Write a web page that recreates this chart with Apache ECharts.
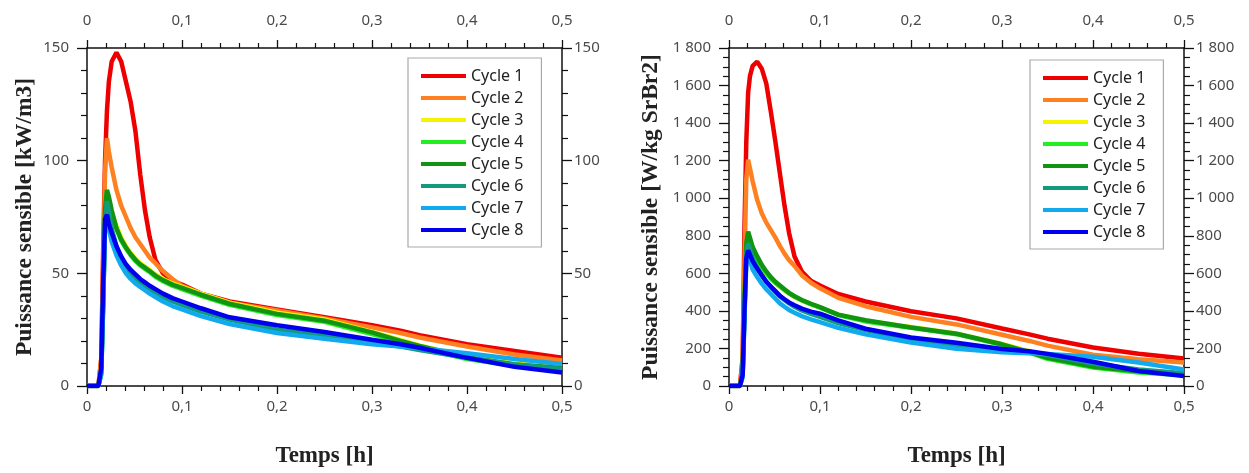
<!DOCTYPE html>
<html><head><meta charset="utf-8">
<script src="https://cdn.jsdelivr.net/npm/echarts@6/dist/echarts.min.js"></script>
<style>html,body{margin:0;padding:0;background:#fff;overflow:hidden}#c{width:1249px;height:473px}</style>
</head><body><div id="c"></div>
<script>
const cycleNames = ['Cycle 1','Cycle 2','Cycle 3','Cycle 4','Cycle 5','Cycle 6','Cycle 7','Cycle 8'];
const colors = ['#ee0000','#ff8020','#f4f400','#22ee22','#119411','#119a7c','#11aaee','#0000ee'];
const time = [0,0.012,0.015,0.017,0.019,0.021,0.023,0.026,0.031,0.036,0.041,0.046,0.051,0.056,0.061,0.066,0.072,0.08,0.09,0.1,0.12,0.15,0.2,0.25,0.3,0.33,0.35,0.4,0.45,0.5];

// Left chart: kW/m3
const L1 = [0,0,12,60,100,122,135,144,148,144,135,126,113,94,78,66,56,50,46.5,45,41,37.5,34,30.5,27,24.5,22.5,18.5,15.5,12.5];
const L2 = [0,0,12,50,95,110,104,97,87,80,75,70,66,63,60,57,54.5,51,47.5,44.5,41,37,33.5,30,26,23.5,21.5,17.5,14,11.3];
const L3 = [0,0,8,40,72,82,80,77,71,66,62,59,56.5,54.5,53,51.5,49.5,47.5,45.5,44,41,37,32.5,29.5,24,20.5,18,13,10,8.5];
const L4 = [0,0,6,35,75,86,82,76,70,64.5,61,58,55.5,53.5,52,50.5,48.5,46.5,44.5,43,40,36,31.5,28.5,23,19.5,17,12,9,7];
const L5 = [0,0,7,38,78,87,84,78,70,65,61.5,58.5,56,54,52.5,51,49,47,45,43.5,40.5,36.5,32,29,23.8,20,17.8,12.8,9.5,8];
const L6 = [0,0,5,35,72,82,78,70,62,57,53,50,48,46,44.5,43,41.5,39.5,37.5,36,33,29.5,25,22.5,19.5,17.5,16,12.5,9.5,7.5];
const L7 = [0,0,6,38,70,74,70,64,58,53.5,50,47.5,45.5,44,42.5,41,39.5,37.5,35.5,34,31,27.5,23.5,21,18.5,17.5,16.8,14.5,12,9.8];
const L8 = [0,0,8,45,74,76,72,68,62,57.5,54,51.5,49.5,47.5,46,44.5,43,41,39,37.5,34.5,30.5,27,24,20.5,18.5,17,12.5,8.5,6];

// Right chart: W/kg SrBr2
const R1 = [0,0,150,840,1300,1560,1650,1705,1727,1690,1610,1460,1300,1130,960,815,690,610,560,535,490,450,398,360,306,275,252,205,172,146];
const R2 = [0,0,120,650,1100,1205,1160,1090,990,920,870,830,790,745,705,670,640,590,550,520,470,425,368,328,273,240,215,166,142,125];
const R3 = [0,0,70,420,730,785,760,720,670,630,598,570,548,528,510,492,474,456,436,418,380,348,314,280,224,185,150,105,80,64];
const R4 = [0,0,60,400,740,800,770,725,675,635,600,572,550,530,512,494,476,456,436,417,378,344,310,276,220,178,145,98,72,57];
const R5 = [0,0,80,450,760,822,790,740,690,645,610,580,555,535,515,496,478,458,438,420,380,350,312,278,222,180,150,103,78,61];
const R6 = [0,0,50,380,700,760,730,680,630,590,555,525,500,478,458,440,422,402,384,368,335,298,245,212,190,178,165,120,88,68];
const R7 = [0,0,50,360,660,690,670,620,580,545,515,490,465,440,422,405,390,372,355,340,310,275,232,198,180,175,171,156,125,88];
const R8 = [0,0,60,400,680,722,700,665,625,590,555,530,505,480,462,445,430,412,396,385,350,305,258,230,197,185,171,129,80,53];

const leftSets = [L1,L2,L3,L4,L5,L6,L7,L8];
const rightSets = [R1,R2,R3,R4,R5,R6,R7,R8];

const sans = 'Noto Sans';
const serif = 'Liberation Serif';
const labelStyle = {color:'#4a4a4a', fontFamily:sans, fontSize:15};
const fmtX = v => (Math.round(v*10)/10).toString().replace('.', ',');
const fmtR = v => v >= 1000 ? Math.floor(v/1000) + ' ' + String(v%1000).padStart(3,'0') : String(v);

function xAx(grid, pos, showName) {
  return {
    type:'value', gridIndex:grid, position:pos, min:0, max:0.5, interval:0.1,
    axisLine:{show:true, onZero:false, lineStyle:{color:'#111', width:1.5}},
    axisTick:{show:true, inside:false, length:8, lineStyle:{color:'#111', width:1.3}},
    minorTick:{show:true, splitNumber:5, length:5, lineStyle:{color:'#111', width:1.2}},
    splitLine:{show:false},
    axisLabel:Object.assign({formatter:fmtX, margin:pos==='top'?20:13}, labelStyle),
    name: showName ? 'Temps [h]' : '', nameLocation:'middle', nameGap:59,
    nameTextStyle:{fontFamily:serif, fontSize:23, fontWeight:'bold', color:'#222'}
  };
}
function yAx(grid, pos, max, interval, split, fmt, name) {
  return {
    type:'value', gridIndex:grid, position:pos, min:0, max:max, interval:interval,
    axisLine:{show:true, onZero:false, lineStyle:{color:'#111', width:1.5}},
    axisTick:{show:true, inside:false, length:10, lineStyle:{color:'#111', width:1.3}},
    minorTick:{show:true, splitNumber:split, length:6, lineStyle:{color:'#111', width:1.2}},
    splitLine:{show:false},
    axisLabel:Object.assign({formatter:fmt, margin:pos==='left'?18:12}, labelStyle),
    name: name || '', nameLocation:'middle', nameGap: name ? (grid===0?50:66) : 0, nameRotate:90,
    nameTextStyle:{fontFamily:serif, fontSize:23.5, fontWeight:'bold', color:'#222'}
  };
}

const series = [];
leftSets.forEach((vals, k) => {
  series.push({name:cycleNames[k], type:'line', xAxisIndex:0, yAxisIndex:0, showSymbol:false, symbol:'none',
    lineStyle:{width:4.5, color:colors[k]}, itemStyle:{color:colors[k]}, z:2+k, animation:false,
    data: time.map((t,i)=>[t, vals[i]])});
});
rightSets.forEach((vals, k) => {
  series.push({name:cycleNames[k], type:'line', xAxisIndex:2, yAxisIndex:2, showSymbol:false, symbol:'none',
    lineStyle:{width:4.5, color:colors[k]}, itemStyle:{color:colors[k]}, z:2+k, animation:false,
    data: time.map((t,i)=>[t, vals[i]])});
});

function legend(left, top) {
  return {
    data:cycleNames, orient:'vertical', left:left, top:top, icon:'rect', itemWidth:45, itemHeight:4,
    itemGap:6, itemTextGap:12, padding:[10,18,9,13], borderColor:'#aaa', borderWidth:1.2, borderRadius:0,
    selectedMode:false,
    textStyle:{fontFamily:sans, fontSize:16, color:'#222', lineHeight:16}
  };
}

const chart = echarts.init(document.getElementById('c'), null, {renderer:'canvas', width:1249, height:473});
chart.setOption({
  animation:false,
  backgroundColor:'#fff',
  grid:[
    {left:87, right:687, top:48, bottom:71, containLabel:false},
    {left:729, right:65, top:48, bottom:71, containLabel:false}
  ],
  xAxis:[xAx(0,'bottom',true), xAx(0,'top',false), xAx(1,'bottom',true), xAx(1,'top',false)],
  yAxis:[
    yAx(0,'left',150,50,5,v=>String(v),'Puissance sensible [kW/m3]'),
    yAx(0,'right',150,50,5,v=>String(v),''),
    yAx(1,'left',1800,200,4,fmtR,'Puissance sensible [W/kg SrBr2]'),
    yAx(1,'right',1800,200,4,fmtR,'')
  ],
  legend:[legend(408,58), legend(1030,60)],
  series:series
});
</script></body></html>
